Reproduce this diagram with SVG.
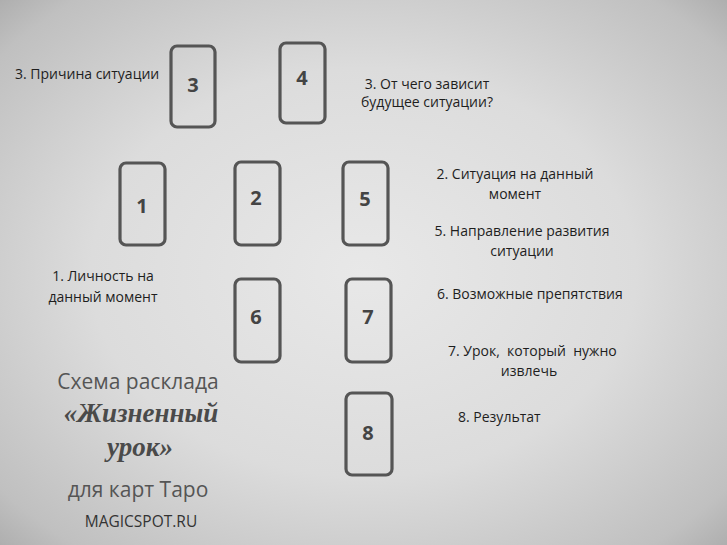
<svg xmlns="http://www.w3.org/2000/svg" width="727" height="545" viewBox="0 0 727 545">
<defs>
<radialGradient id="bg" cx="0.5" cy="0.5" r="0.75">
<stop offset="0" stop-color="#e8e8e8"/>
<stop offset="0.5" stop-color="#dcdcdc"/>
<stop offset="0.85" stop-color="#c0c0c0"/>
<stop offset="1" stop-color="#a4a4a4"/>
</radialGradient>
<style>
.card{fill:none;stroke:#555;stroke-width:3.2}
.num{font-family:"Open Sans","Liberation Sans",sans-serif;font-weight:bold;font-size:20px;fill:#444;text-anchor:middle}
.lbl{font-family:"Open Sans","Liberation Sans",sans-serif;font-size:14px;fill:#1e1e1e}
.mid{text-anchor:middle}
.t1{font-family:"Open Sans","Liberation Sans",sans-serif;font-size:21px;fill:#555;text-anchor:middle}
.t2{font-family:"Liberation Serif","DejaVu Serif",serif;font-style:italic;font-weight:bold;font-size:27px;fill:#4a4a4a;text-anchor:middle}
.t3{font-family:"Open Sans","Liberation Sans",sans-serif;font-size:15.5px;fill:#333;text-anchor:middle}
</style>
</defs>
<rect width="727" height="545" fill="url(#bg)"/>
<g id="card3"><rect class="card" x="171" y="46" width="44" height="81" rx="6"/><text class="num" x="193" y="92">3</text></g>
<g id="card4"><rect class="card" x="280" y="43" width="45" height="80" rx="6"/><text class="num" x="302" y="85">4</text></g>
<g id="card1"><rect class="card" x="120" y="163" width="45" height="82" rx="6"/><text class="num" x="142" y="213">1</text></g>
<g id="card2"><rect class="card" x="235" y="162" width="45" height="83" rx="6"/><text class="num" x="256" y="205">2</text></g>
<g id="card5"><rect class="card" x="343" y="162" width="45" height="83" rx="6"/><text class="num" x="365" y="206">5</text></g>
<g id="card6"><rect class="card" x="235" y="279" width="45" height="83" rx="6"/><text class="num" x="256" y="324">6</text></g>
<g id="card7"><rect class="card" x="346" y="279" width="45" height="83" rx="6"/><text class="num" x="368" y="324">7</text></g>
<g id="card8"><rect class="card" x="346" y="393" width="46" height="82" rx="6"/><text class="num" x="368" y="440">8</text></g>
<g id="connectors"></g>
<g id="labels">
<text class="lbl" x="15" y="79">3. Причина ситуации</text>
<text class="lbl mid" x="427" y="89">3. От чего зависит</text>
<text class="lbl mid" x="427" y="107">будущее ситуации?</text>
<text class="lbl mid" x="515" y="179">2. Ситуация на данный</text>
<text class="lbl mid" x="515" y="199">момент</text>
<text class="lbl mid" x="522" y="236">5. Направление развития</text>
<text class="lbl mid" x="522" y="256">ситуации</text>
<text class="lbl mid" x="103" y="281">1. Личность на</text>
<text class="lbl mid" x="103" y="302">данный момент</text>
<text class="lbl" x="437" y="299">6. Возможные препятствия</text>
<text class="lbl" x="448" y="356" xml:space="preserve">7. Урок,  который  нужно</text>
<text class="lbl mid" x="529" y="376">извлечь</text>
<text class="lbl" x="458" y="422">8. Результат</text>
</g>
<g id="title">
<text class="t1" x="138" y="389">Схема расклада</text>
<text class="t2" x="141" y="422">«Жизненный</text>
<text class="t2" x="140" y="456">урок»</text>
<text class="t1" x="138" y="497">для карт Таро</text>
<text class="t3" x="141" y="527">MAGICSPOT.RU</text>
</g>
</svg>
